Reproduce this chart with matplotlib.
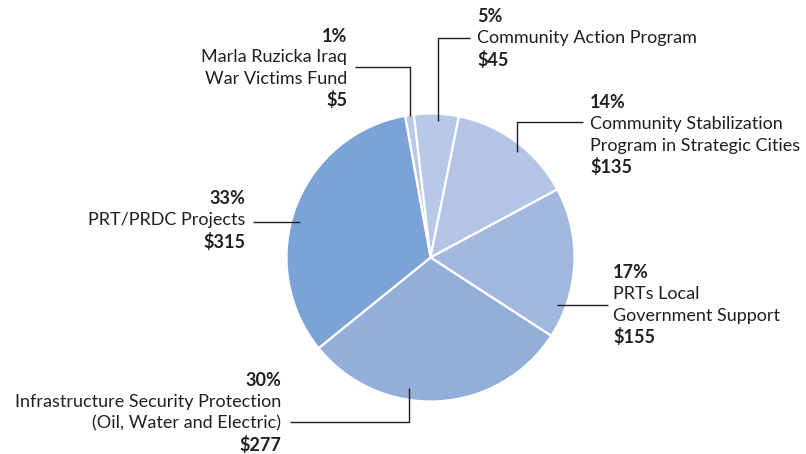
import matplotlib
matplotlib.use("Agg")
from matplotlib import pyplot as plt

# funding shares by program ($ millions)
labels = ["Marla Ruzicka Iraq\nWar Victims Fund",
          "Community Action Program",
          "Community Stabilization\nProgram in Strategic Cities",
          "PRTs Local\nGovernment Support",
          "Infrastructure Security Protection\n(Oil, Water and Electric)",
          "PRT/PRDC Projects"]
percents = [1, 5, 14, 17, 30, 33]
dollars = [5, 45, 135, 155, 277, 315]
colors = ["#b9c9e8", "#b8c8e7", "#b3c4e4", "#a3b8df", "#92afda", "#7ca3d5"]

W, H = 806, 454
TXT = "#231f20"
plt.rcParams["font.family"] = ["Lato", "DejaVu Sans"]

fig = plt.figure(figsize=(W / 100, H / 100), dpi=100)
ax = fig.add_axes([0, 0, 1, 1])

def yy(y):
    # pixel rows counted from the top
    return H - y

cx, cy, r = 430.5, 257.5, 144
ax.pie(percents, colors=colors, startangle=90 + 10.2, counterclock=False,
       center=(cx, yy(cy)), radius=r,
       wedgeprops=dict(edgecolor="white", linewidth=1.6))

ax.set_xlim(0, W)
ax.set_ylim(0, H)
ax.set_aspect("equal")
ax.axis("off")

# leader lines (pixel paths)
leaders = [
    [(355, 66.5), (410, 66.5), (410, 116)],
    [(470, 38), (438, 38), (438, 121)],
    [(583, 121.5), (517, 121.5), (517, 152)],
    [(608, 305), (557, 305)],
    [(290, 421.5), (408.5, 421.5), (408.5, 388)],
    [(253, 222), (300, 222)],
]
for path in leaders:
    xs = [p[0] for p in path]
    ys = [yy(p[1]) for p in path]
    ax.plot(xs, ys, color=TXT, lw=1.0, solid_capstyle="butt")

# label blocks: (x, top line y, align)
spots = [(347, 36, "right"), (477, 17, "left"), (590, 103, "left"),
         (613, 273, "left"), (281, 381, "right"), (245, 199, "right")]
step = 21.3
fs = 13
for (x, y0, ha), lab, p, d in zip(spots, labels, percents, dollars):
    lines = lab.split("\n")
    ax.text(x, yy(y0), f"{p}%", ha=ha, va="center", fontsize=fs,
            fontweight="bold", color=TXT)
    for i, ln in enumerate(lines):
        ax.text(x, yy(y0 + step * (i + 1)), ln, ha=ha, va="center",
                fontsize=fs, color=TXT)
    ax.text(x, yy(y0 + step * (len(lines) + 1)), f"${d}", ha=ha, va="center",
            fontsize=fs, fontweight="bold", color=TXT)

fig.savefig("out.png", dpi=100)
